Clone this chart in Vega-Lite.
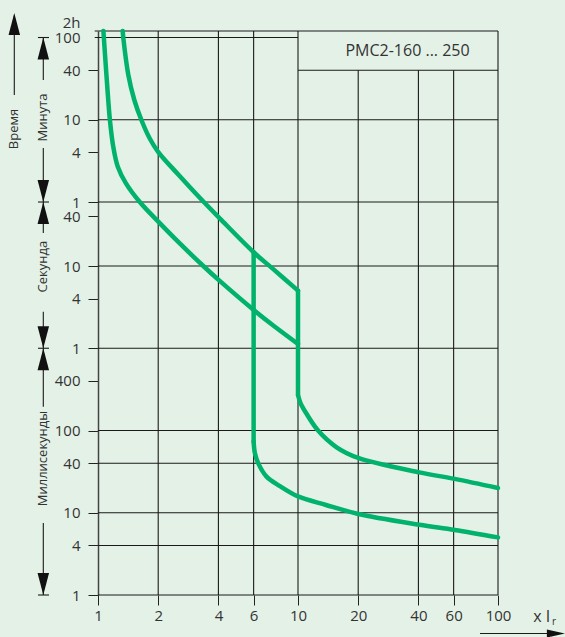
{
  "$schema": "https://vega.github.io/schema/vega-lite/v6.json",
  "description": "Время-токовая характеристика PMC2-160 ... 250",
  "width": 400,
  "height": 564,
  "autosize": "none",
  "padding": {"left": 98, "top": 31, "right": 67, "bottom": 42},
  "background": "#e4f1e7",
  "config": {"view": {"stroke": null}, "font": "Open Sans"},
  "datasets": {
    "curves": [
      {"s": "u1", "o": 1, "x": 1.329, "y": 7200},
      {"s": "u1", "o": 2, "x": 1.339, "y": 5869},
      {"s": "u1", "o": 3, "x": 1.418, "y": 2101},
      {"s": "u1", "o": 4, "x": 1.519, "y": 1043},
      {"s": "u1", "o": 5, "x": 1.654, "y": 584},
      {"s": "u1", "o": 6, "x": 1.82, "y": 350},
      {"s": "u1", "o": 7, "x": 2.002, "y": 243},
      {"s": "u1", "o": 8, "x": 2.52, "y": 129.6},
      {"s": "u1", "o": 9, "x": 3.236, "y": 67.1},
      {"s": "u1", "o": 10, "x": 4.074, "y": 37.7},
      {"s": "u1", "o": 11, "x": 6.0, "y": 14.7},
      {"s": "u1", "o": 12, "x": 7.522, "y": 9.17},
      {"s": "u1", "o": 13, "x": 10, "y": 5.02},
      {"s": "u2", "o": 1, "x": 10, "y": 0.27},
      {"s": "u2", "o": 2, "x": 10.23, "y": 0.224},
      {"s": "u2", "o": 3, "x": 10.4, "y": 0.204},
      {"s": "u2", "o": 4, "x": 10.99, "y": 0.162},
      {"s": "u2", "o": 5, "x": 12.6, "y": 0.0998},
      {"s": "u2", "o": 6, "x": 15.6, "y": 0.0625},
      {"s": "u2", "o": 7, "x": 20, "y": 0.0464},
      {"s": "u2", "o": 8, "x": 40.4, "y": 0.031},
      {"s": "u2", "o": 9, "x": 60.7, "y": 0.0258},
      {"s": "u2", "o": 10, "x": 100, "y": 0.02},
      {"s": "l1", "o": 1, "x": 1.064, "y": 7200},
      {"s": "l1", "o": 2, "x": 1.096, "y": 2534},
      {"s": "l1", "o": 3, "x": 1.125, "y": 1043},
      {"s": "l1", "o": 4, "x": 1.148, "y": 584},
      {"s": "l1", "o": 5, "x": 1.192, "y": 282},
      {"s": "l1", "o": 6, "x": 1.256, "y": 161},
      {"s": "l1", "o": 7, "x": 1.38, "y": 101},
      {"s": "l1", "o": 8, "x": 1.622, "y": 59.5},
      {"s": "l1", "o": 9, "x": 2.002, "y": 34.6},
      {"s": "l1", "o": 10, "x": 2.512, "y": 19.75},
      {"s": "l1", "o": 11, "x": 3.361, "y": 10.0},
      {"s": "l1", "o": 12, "x": 4.074, "y": 6.54},
      {"s": "l1", "o": 13, "x": 6.046, "y": 2.88},
      {"s": "l1", "o": 14, "x": 7.522, "y": 1.89},
      {"s": "l1", "o": 15, "x": 10, "y": 1.127},
      {"s": "v1", "o": 1, "x": 6, "y": 0.073},
      {"s": "v1", "o": 2, "x": 6.09, "y": 0.0528},
      {"s": "v1", "o": 3, "x": 6.33, "y": 0.0398},
      {"s": "v1", "o": 4, "x": 6.96, "y": 0.0275},
      {"s": "v1", "o": 5, "x": 8.12, "y": 0.0211},
      {"s": "v1", "o": 6, "x": 10, "y": 0.0158},
      {"s": "v1", "o": 7, "x": 13.8, "y": 0.01243},
      {"s": "v1", "o": 8, "x": 20, "y": 0.00966},
      {"s": "v1", "o": 9, "x": 40.4, "y": 0.00716},
      {"s": "v1", "o": 10, "x": 60.7, "y": 0.00618},
      {"s": "v1", "o": 11, "x": 100, "y": 0.00502}
    ],
    "drops": [
      {"x": 10, "x2": 10, "y": 5.02, "y2": 0.27},
      {"x": 6, "x2": 6, "y": 14.7, "y2": 0.073}
    ],
    "lines": [
      {"x": 0.963, "x2": 100, "y": 7200, "y2": 7200},
      {"x": 0.963, "x2": 10, "y": 6000, "y2": 6000},
      {"x": 10, "x2": 100, "y": 2400, "y2": 2400},
      {"x": 1, "x2": 100, "y": 600, "y2": 600},
      {"x": 1, "x2": 100, "y": 60, "y2": 60},
      {"x": 1, "x2": 100, "y": 10, "y2": 10},
      {"x": 1, "x2": 100, "y": 1, "y2": 1},
      {"x": 1, "x2": 100, "y": 0.1, "y2": 0.1},
      {"x": 1, "x2": 100, "y": 0.04, "y2": 0.04},
      {"x": 1, "x2": 100, "y": 0.01, "y2": 0.01},
      {"x": 1, "x2": 100, "y": 0.004, "y2": 0.004},
      {"x": 1, "x2": 100, "y": 0.001, "y2": 0.001},
      {"x": 2, "x2": 2, "y": 0.001, "y2": 7200},
      {"x": 4, "x2": 4, "y": 0.001, "y2": 7200},
      {"x": 6, "x2": 6, "y": 0.001, "y2": 7200},
      {"x": 10, "x2": 10, "y": 0.001, "y2": 7200},
      {"x": 100, "x2": 100, "y": 0.001, "y2": 7200},
      {"x": 20, "x2": 20, "y": 0.001, "y2": 2400},
      {"x": 40, "x2": 40, "y": 0.001, "y2": 2400},
      {"x": 60, "x2": 60, "y": 0.001, "y2": 2400},
      {"x": 0.3815, "x2": 0.3815, "y": 1200, "y2": 11000},
      {"x": 0.5327, "x2": 0.5327, "y": 6000, "y2": 1826},
      {"x": 0.5327, "x2": 0.5327, "y": 272, "y2": 60},
      {"x": 0.5327, "x2": 0.5327, "y": 60, "y2": 25.2},
      {"x": 0.5327, "x2": 0.5327, "y": 2.78, "y2": 1},
      {"x": 0.5327, "x2": 0.5327, "y": 1, "y2": 0.195},
      {"x": 0.5327, "x2": 0.5327, "y": 0.0075, "y2": 0.001},
      {"x": 0.501, "x2": 0.569, "y": 6000, "y2": 6000},
      {"x": 0.501, "x2": 0.569, "y": 60, "y2": 60},
      {"x": 0.501, "x2": 0.569, "y": 1, "y2": 1},
      {"x": 0.501, "x2": 0.569, "y": 0.001, "y2": 0.001},
      {"x": 81.3, "x2": 205, "y": 0.00034, "y2": 0.00034}
    ],
    "heads": [
      {"x": 0.3815, "y": 11915, "dir": "up"},
      {"x": 0.5327, "y": 6000, "dir": "up"},
      {"x": 0.5327, "y": 60, "dir": "down"},
      {"x": 0.5327, "y": 60, "dir": "up"},
      {"x": 0.5327, "y": 1, "dir": "down"},
      {"x": 0.5327, "y": 1, "dir": "up"},
      {"x": 0.5327, "y": 0.001, "dir": "down"},
      {"x": 216, "y": 0.00034, "dir": "right"}
    ],
    "sidelabels": [
      {"x": 0.3815, "y": 463, "label": "Время"},
      {"x": 0.5327, "y": 639, "label": "Минута"},
      {"x": 0.5327, "y": 9.81, "label": "Секунда"},
      {"x": 0.5327, "y": 0.0457, "label": "Миллисекунды"}
    ]
  },
  "encoding": {
    "x": {
      "field": "x", "type": "quantitative",
      "scale": {"type": "log", "domain": [1, 100]},
      "axis": {
        "values": [1, 2, 4, 6, 10, 20, 40, 60, 100],
        "format": "d",
        "title": null,
        "grid": false,
        "domain": false,
        "tickSize": 10,
        "tickColor": "#222",
        "labelFontSize": 15,
        "labelColor": "#333",
        "labelPadding": 3,
        "labelOverlap": false,
        "labelFlush": false
      }
    },
    "y": {
      "field": "y", "type": "quantitative",
      "scale": {"type": "log", "domain": [0.001, 7200]},
      "axis": {
        "values": [7200, 6000, 2400, 600, 240, 60, 40, 10, 4, 1, 0.4, 0.1, 0.04, 0.01, 0.004, 0.001],
        "labelExpr": "datum.value == 7200 ? '2h' : datum.value >= 60 ? '' + round(datum.value / 60) : datum.value >= 1 ? '' + round(datum.value) : '' + round(datum.value * 1000)",
        "title": null,
        "grid": false,
        "domainColor": "#444",
        "domainWidth": 1.5,
        "tickSize": 10,
        "tickColor": {"condition": {"test": "datum.value >= 6000", "value": "transparent"}, "value": "#222"},
        "labelOffset": {"condition": {"test": "datum.value == 7200", "value": -9}, "value": 0},
        "labelFontSize": 15,
        "labelColor": "#333",
        "labelPadding": 8,
        "labelOverlap": false,
        "labelFlush": false,
        "labelBound": false
      }
    }
  },
  "layer": [
    {
      "data": {"name": "lines"},
      "mark": {"type": "rule", "color": "#1a1a1a", "strokeWidth": 1.1},
      "encoding": {"x2": {"field": "x2"}, "y2": {"field": "y2"}}
    },
    {
      "data": {"name": "curves"},
      "mark": {"type": "line", "color": "#00b26b", "strokeWidth": 4.5, "interpolate": "catmull-rom", "strokeCap": "round"},
      "encoding": {
        "detail": {"field": "s"},
        "order": {"field": "o"}
      }
    },
    {
      "data": {"name": "drops"},
      "mark": {"type": "rule", "color": "#00b26b", "strokeWidth": 4.5, "strokeCap": "round"},
      "encoding": {"x2": {"field": "x2"}, "y2": {"field": "y2"}}
    },
    {
      "data": {"name": "heads"},
      "transform": [{"filter": "datum.dir == 'up'"}],
      "mark": {"type": "point", "shape": "M0,0L-1.15,4.4L1.15,4.4Z", "size": 100, "filled": true, "color": "#111", "opacity": 1, "strokeWidth": 0}
    },
    {
      "data": {"name": "heads"},
      "transform": [{"filter": "datum.dir == 'down'"}],
      "mark": {"type": "point", "shape": "M0,0L-1.15,-4.4L1.15,-4.4Z", "size": 100, "filled": true, "color": "#111", "opacity": 1, "strokeWidth": 0}
    },
    {
      "data": {"name": "heads"},
      "transform": [{"filter": "datum.dir == 'right'"}],
      "mark": {"type": "point", "shape": "M0,0L-3.6,-0.8L-3.6,0.8Z", "size": 100, "filled": true, "color": "#111", "opacity": 1, "strokeWidth": 0}
    },
    {
      "data": {"name": "sidelabels"},
      "mark": {"type": "text", "angle": 270, "fontSize": 13, "color": "#333", "align": "center", "baseline": "middle"},
      "encoding": {"text": {"field": "label"}}
    },
    {
      "data": {"values": [{"x": 35.3, "y": 4113, "label": "PMC2-160 ... 250"}]},
      "mark": {"type": "text", "fontSize": 16, "color": "#333", "align": "center", "baseline": "middle"},
      "encoding": {"text": {"field": "label"}}
    },
    {
      "data": {"values": [{"x": 150, "y": 0.00054, "label": "x I"}]},
      "mark": {"type": "text", "fontSize": 16, "color": "#333", "align": "left", "baseline": "middle"},
      "encoding": {"text": {"field": "label"}}
    },
    {
      "data": {"values": [{"x": 186, "y": 0.00047, "label": "r"}]},
      "mark": {"type": "text", "fontSize": 10, "color": "#333", "align": "left", "baseline": "middle"},
      "encoding": {"text": {"field": "label"}}
    }
  ]
}
